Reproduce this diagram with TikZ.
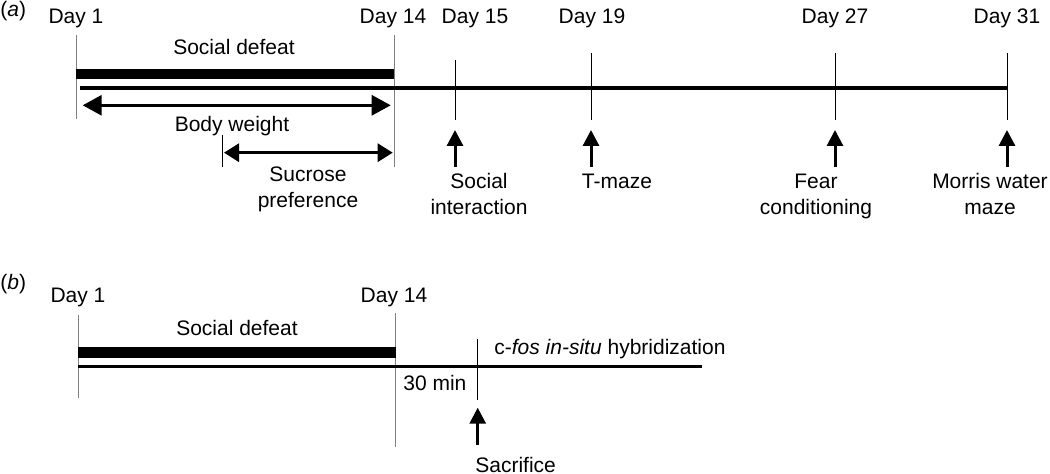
\documentclass[tikz,border=0pt]{standalone}
\usepackage{fontspec}
\setmainfont{Liberation Sans}
\usetikzlibrary{arrows.meta}
\definecolor{daygrey}{gray}{0.5}
\tikzstyle{lbl}=[inner sep=0pt, anchor=base, align=center, font=\fontsize{10.5}{13.3}\selectfont]
\tikzstyle{daytick}=[line width=0.5pt, color=daygrey]
\tikzstyle{eventtick}=[line width=0.5pt]
\tikzstyle{timeline}=[line width=1.75pt]
\tikzstyle{defeat}=[line width=5.25pt]
\tikzstyle{bigspan}=[{Triangle[length=9.5pt,width=10pt]}-{Triangle[length=9.5pt,width=10pt]}, line width=1.5pt]
\tikzstyle{smallspan}=[{Triangle[length=7.5pt,width=9pt]}-{Triangle[length=7.5pt,width=9pt]}, line width=1.5pt]
\tikzstyle{test}=[-{Triangle[length=8pt,width=8pt]}, line width=1.5pt]

\begin{document}
\begin{tikzpicture}[x=0.5pt,y=-0.5pt]
  \useasboundingbox (0,0) rectangle (1050,474);

  %% (a) Behaviour
  \draw (0,17) node[lbl,anchor=base west] (Pa) {(\textit{a})};
  \draw (76,23.5) node[lbl] (D1a) {Day 1};
  \draw (393,23.5) node[lbl] (D14a) {Day 14};
  \draw (475,23.5) node[lbl] (D15a) {Day 15};
  \draw (592,23.5) node[lbl] (D19a) {Day 19};
  \draw (835,23.5) node[lbl] (D27a) {Day 27};
  \draw (1007,23.5) node[lbl] (D31a) {Day 31};

  \coordinate (T1a) at (76,35);    \coordinate (B1a) at (76,119);
  \coordinate (T14a) at (394,35);  \coordinate (B14a) at (394,167);
  \coordinate (T15a) at (455,60);  \coordinate (B15a) at (455,120);
  \coordinate (T19a) at (591,53);  \coordinate (B19a) at (591,120);
  \coordinate (T27a) at (835,53);  \coordinate (B27a) at (835,120);
  \coordinate (T31a) at (1007,53); \coordinate (B31a) at (1007,120);

  \draw[daytick] (T1a) -- (B1a);
  \draw[daytick] (T14a) -- (B14a);
  \draw[eventtick] (T15a) -- (B15a);
  \draw[eventtick] (T19a) -- (B19a);
  \draw[eventtick] (T27a) -- (B27a);
  \draw[eventtick] (T31a) -- (B31a);

  \draw (234,55) node[lbl] (SDa) {Social defeat};
  \coordinate (SDLa) at (76,74);
  \coordinate (SDRa) at (394,74);
  \draw[defeat] (SDLa) -- (SDRa);

  \coordinate (TLa) at (80,88);
  \coordinate (TRa) at (1007,88);
  \draw[timeline] (TLa) -- (TRa);

  \coordinate (BWL) at (82.7,105.3);
  \coordinate (BWR) at (390.7,105.3);
  \draw[bigspan] (BWL) -- (BWR);
  \draw (232,131.5) node[lbl] (BW) {Body weight};

  \coordinate (SPT) at (222,135);
  \coordinate (SPB) at (222,167);
  \draw[eventtick] (SPT) -- (SPB);
  \coordinate (SPL) at (224,152.7);
  \coordinate (SPR) at (392.7,152.7);
  \draw[smallspan] (SPL) -- (SPR);
  \draw (308,208) node[lbl] (SP) {Sucrose\\preference};

  %% Tests
  \coordinate (A15) at (455,167);  \coordinate (H15) at (455,130);
  \coordinate (A19) at (591,167);  \coordinate (H19) at (591,130);
  \coordinate (A27) at (835,167);  \coordinate (H27) at (835,130);
  \coordinate (A31) at (1007,167); \coordinate (H31) at (1007,130);
  \draw[test] (A15) -- (H15);
  \draw[test] (A19) -- (H19);
  \draw[test] (A27) -- (H27);
  \draw[test] (A31) -- (H31);

  \draw (479,215) node[lbl] (SI) {Social\\interaction};
  \draw (617,188.3) node[lbl] (TM) {T-maze};
  \draw (816,215) node[lbl] (FC) {Fear\\conditioning};
  \draw (990,215) node[lbl] (MW) {Morris water\\maze};

  %% (b) c-fos
  \draw (0,290) node[lbl,anchor=base west] (Pb) {(\textit{b})};
  \draw (78,302.3) node[lbl] (D1b) {Day 1};
  \draw (394,302.3) node[lbl] (D14b) {Day 14};

  \coordinate (T1b) at (78,315);    \coordinate (B1b) at (78,398);
  \coordinate (T14b) at (395.7,313); \coordinate (B14b) at (395.7,447);
  \coordinate (TSb) at (477.7,339); \coordinate (BSb) at (477.7,400);
  \draw[daytick] (T1b) -- (B1b);
  \draw[daytick] (T14b) -- (B14b);
  \draw[eventtick] (TSb) -- (BSb);

  \draw (237,335.7) node[lbl] (SDb) {Social defeat};
  \coordinate (SDLb) at (78,352.5);
  \coordinate (SDRb) at (395.7,352.5);
  \draw[defeat] (SDLb) -- (SDRb);

  \coordinate (TLb) at (78,366.7);
  \coordinate (TRb) at (701.7,366.7);
  \draw[timeline] (TLb) -- (TRb);

  \draw (403,390.7) node[lbl,anchor=base west] (MIN) {30 min};
  \draw (494,354.3) node[lbl,anchor=base west] (CF) {c-\textit{fos in-situ} hybridization};

  \coordinate (AS) at (477.7,445);
  \coordinate (HS) at (477.7,407.7);
  \draw[test] (AS) -- (HS);
  \draw (475,472.3) node[lbl,anchor=base west] (SAC) {Sacrifice};
\end{tikzpicture}
\end{document}
